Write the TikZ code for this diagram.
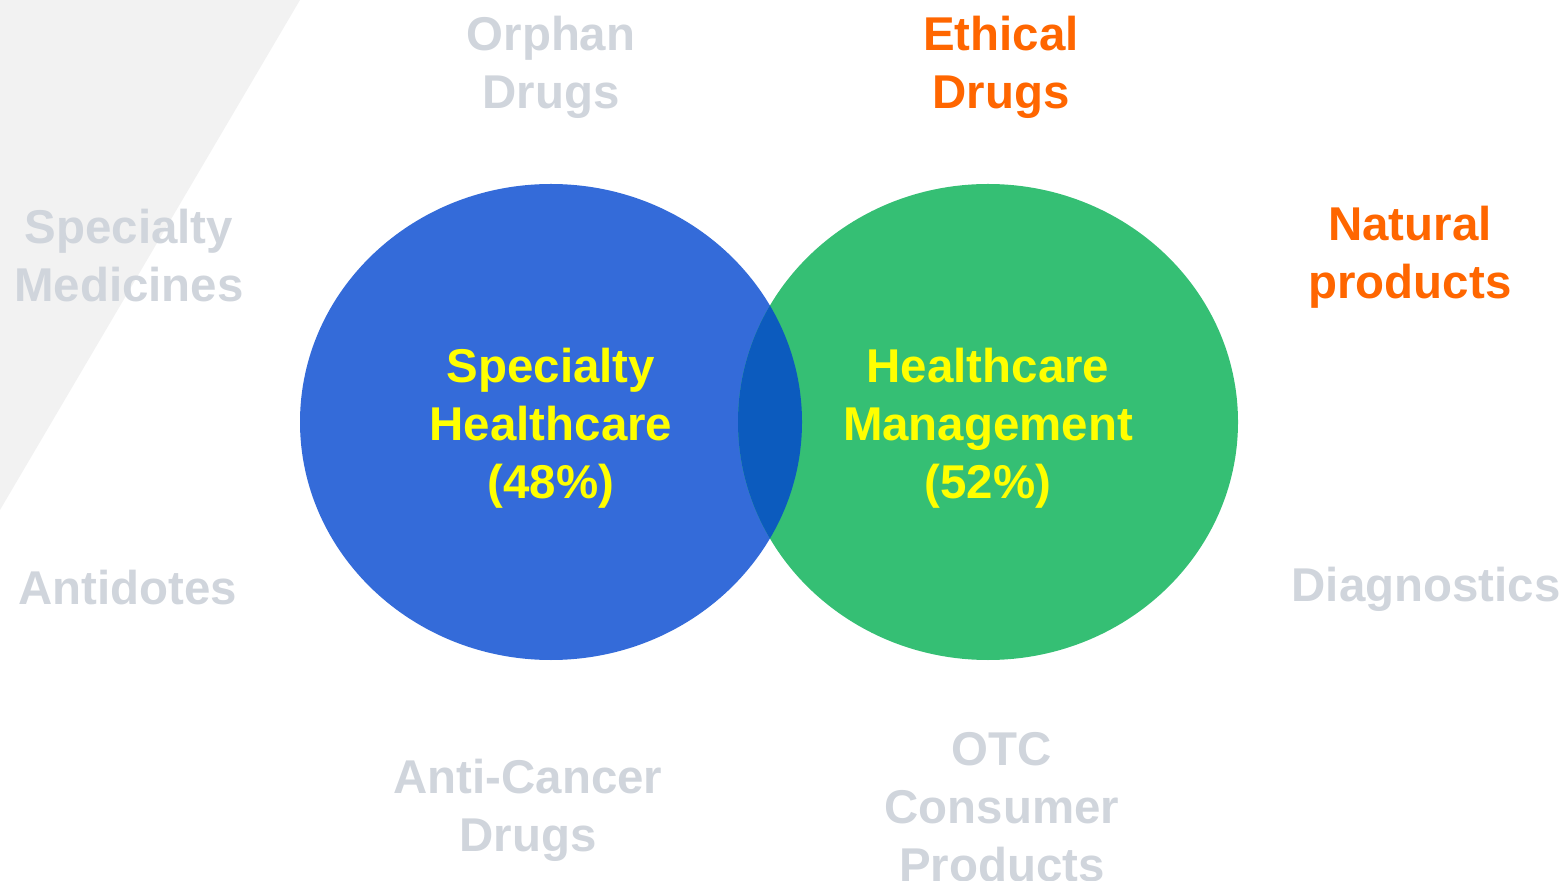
\documentclass[tikz,border=0pt]{standalone}
\usepackage{fontspec}
\setmainfont{Liberation Sans}
\definecolor{bgrey}{HTML}{F2F2F2}
\definecolor{lgrey}{HTML}{D0D5DC}
\definecolor{cblue}{HTML}{346BD9}
\definecolor{cgreen}{HTML}{35BF74}
\definecolor{cover}{HTML}{0C5BBE}
\definecolor{corange}{HTML}{FF6600}
\definecolor{cyellow}{HTML}{FFFF00}
\begin{document}
\begin{tikzpicture}[x=0.02cm,y=-0.02cm,
  lbl/.style={font=\bfseries\fontsize{27}{33}\selectfont,align=center,inner sep=0pt},
  greylbl/.style={lbl,text=lgrey},
  orangelbl/.style={lbl,text=corange},
  yellowlbl/.style={lbl,text=cyellow}]
\useasboundingbox (0,0) rectangle (1565,881);
\fill[bgrey] (0,0) -- (300,0) -- (0,510) -- cycle;
\fill[cblue] (551,422) ellipse [x radius=251, y radius=238];
\fill[cgreen] (988,422) ellipse [x radius=250, y radius=238];
\begin{scope}
\clip (988,422) ellipse [x radius=250, y radius=238];
\fill[cover] (551,422) ellipse [x radius=251, y radius=238];
\end{scope}
\node[greylbl] (orphan) at (551,67) {Orphan\\Drugs};
\node[orangelbl] (ethical) at (1001,67) {Ethical\\Drugs};
\node[greylbl] (specmed) at (129,256) {Specialty\\Medicines};
\node[orangelbl] (natural) at (1410,257) {Natural\\products};
\node[yellowlbl] (spechc) at (551,428) {Specialty\\Healthcare\\(48\%)};
\node[yellowlbl] (hcm) at (988,428) {Healthcare\\Management\\(52\%)};
\node[greylbl] (antidotes) at (128,588) {Antidotes};
\node[greylbl] (diag) at (1426,589) {Diagnostics};
\node[greylbl] (anticancer) at (528,810) {Anti-Cancer\\Drugs};
\node[greylbl] (otc) at (1002,807) {OTC\\Consumer\\Products};
\end{tikzpicture}
\end{document}
